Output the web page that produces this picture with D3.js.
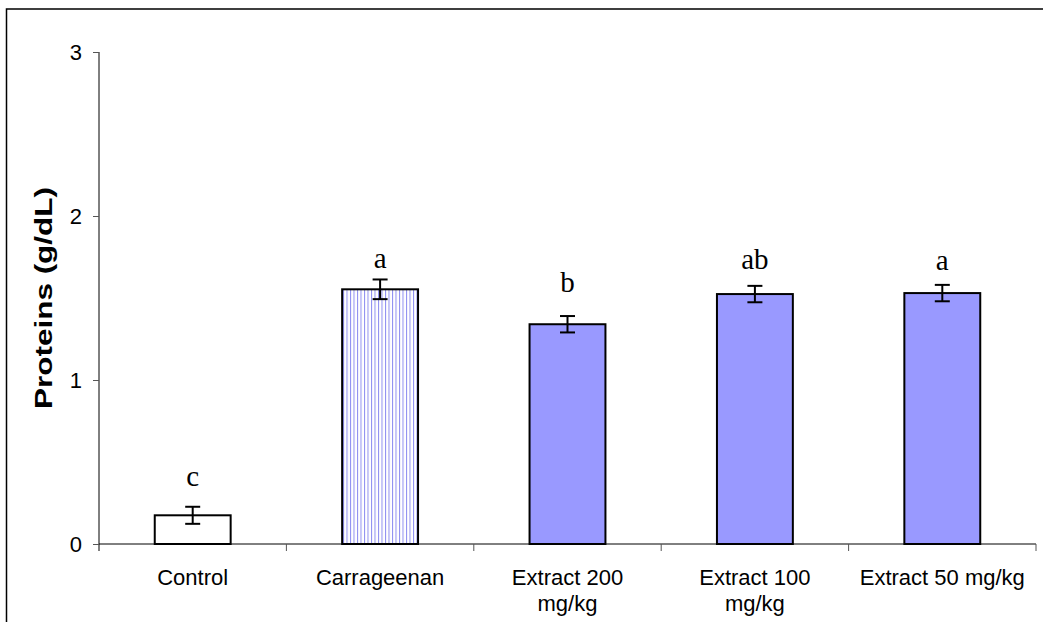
<!DOCTYPE html>
<html><head><meta charset="utf-8">
<script src="https://cdn.jsdelivr.net/npm/d3@7/dist/d3.min.js"></script>
<style>body{margin:0;background:#fff}svg{display:block}</style>
</head><body>
<script>
const categories = ["Control", "Carrageenan", "Extract 200 mg/kg", "Extract 100 mg/kg", "Extract 50 mg/kg"];
const categoryLines = [["Control"], ["Carrageenan"], ["Extract 200", "mg/kg"], ["Extract 100", "mg/kg"], ["Extract 50 mg/kg"]];
const values = [0.175, 1.553, 1.34, 1.524, 1.53];
const errors = [0.052, 0.06, 0.05, 0.05, 0.05];
const letters = ["c", "a", "b", "ab", "a"];
const letterValues = [0.355, 1.68, 1.535, 1.675, 1.67];
const fillTypes = ["white", "pattern", "solid", "solid", "solid"];
const yTicks = [0, 1, 2, 3];

const W = 1043, H = 622;
const svg = d3.select("body").append("svg").attr("width", W).attr("height", H);

const defs = svg.append("defs");
const pat = defs.append("pattern").attr("id", "vlines").attr("patternUnits", "userSpaceOnUse")
  .attr("width", 3.5).attr("height", 10);
pat.append("rect").attr("width", 3.5).attr("height", 10).attr("fill", "#fff");
pat.append("rect").attr("x", 0).attr("width", 1).attr("height", 10).attr("fill", "#8c8cf0");

// outer frame
svg.append("path").attr("d", `M6.5,${H} L6.5,9 L${W},9`).attr("fill", "none").attr("stroke", "#000").attr("stroke-width", 1.5);

const x0 = 99, x1 = 1036, y0 = 544, y1 = 52;
const x = d3.scaleBand().domain(categories).range([x0, x1]).paddingInner(0).paddingOuter(0);
const y = d3.scaleLinear().domain([0, 3]).range([y0, y1]);
const bw = x.bandwidth() * 0.405;

// y axis
const yAxis = svg.append("g").attr("transform", `translate(${x0},0)`)
  .call(d3.axisLeft(y).tickValues(yTicks).tickSize(6).tickPadding(11).tickFormat(d3.format("d")));
yAxis.select(".domain").attr("d", `M0,${y1}V${y0 + 7}`).attr("stroke", "#000");
yAxis.selectAll(".tick line").attr("stroke", "#555");
yAxis.selectAll(".tick text").attr("font-family", "Liberation Sans, Arial, sans-serif").attr("font-size", 22).attr("fill", "#000");

// x axis
const xAxisG = svg.append("g").attr("transform", `translate(0,${y0})`);
xAxisG.append("line").attr("x1", x0).attr("x2", x1).attr("stroke", "#000");
const boundaries = categories.map(c => x(c) + x.bandwidth());
xAxisG.selectAll("line.tk").data(boundaries).enter().append("line").attr("class", "tk")
  .attr("x1", d => d).attr("x2", d => d).attr("y1", 0).attr("y2", 7).attr("stroke", "#555");

// category labels
categories.forEach((c, i) => {
  const t = svg.append("text").attr("x", x(c) + x.bandwidth() / 2).attr("y", 585)
    .attr("text-anchor", "middle").attr("font-family", "Liberation Sans, Arial, sans-serif")
    .attr("font-size", 22).attr("fill", "#000");
  categoryLines[i].forEach((ln, j) => {
    t.append("tspan").attr("x", x(c) + x.bandwidth() / 2).attr("dy", j === 0 ? 0 : 26).text(ln);
  });
});

// bars
const g = svg.append("g");
categories.forEach((c, i) => {
  const cx = x(c) + x.bandwidth() / 2;
  const fill = fillTypes[i] === "white" ? "#fff" : fillTypes[i] === "pattern" ? "url(#vlines)" : "#9999ff";
  g.append("rect").attr("x", cx - bw / 2).attr("y", y(values[i])).attr("width", bw)
    .attr("height", y(0) - y(values[i])).attr("fill", fill).attr("stroke", "#000").attr("stroke-width", 2);
  const yt = y(values[i] + errors[i]), yb = y(values[i] - errors[i]);
  g.append("line").attr("x1", cx).attr("x2", cx).attr("y1", yt).attr("y2", yb).attr("stroke", "#000").attr("stroke-width", 2);
  [yt, yb].forEach(yy => g.append("line").attr("x1", cx - 7.5).attr("x2", cx + 7.5).attr("y1", yy).attr("y2", yy)
    .attr("stroke", "#000").attr("stroke-width", 2));
  g.append("text").attr("x", cx).attr("y", y(letterValues[i])).attr("text-anchor", "middle")
    .attr("font-family", "Liberation Serif, Times New Roman, serif").attr("font-size", 29).attr("fill", "#000").text(letters[i]);
});

// y label
svg.append("text").attr("transform", `translate(52,${(y0 + y1) / 2}) rotate(-90)`).attr("text-anchor", "middle")
  .attr("font-family", "Liberation Sans, Arial, sans-serif").attr("font-weight", "bold").attr("font-size", 23)
  .attr("textLength", 222).attr("lengthAdjust", "spacingAndGlyphs")
  .attr("fill", "#000").text("Proteins (g/dL)");
</script>
</body></html>
